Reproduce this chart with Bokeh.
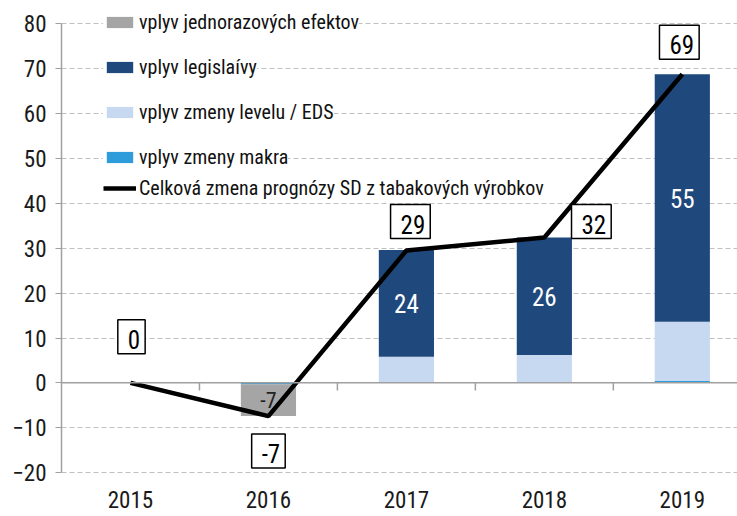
import numpy as np
from bokeh.plotting import figure
from bokeh.models import Range1d, FixedTicker, Span, Legend, LegendItem
from bokeh.core.properties import value
from bokeh.embed import file_html
from bokeh.resources import INLINE

# ---------------- data ----------------
years = ["2015", "2016", "2017", "2018", "2019"]
jednorazove = [0.0, -7.1, 0.0, 0.0, 0.0]
legislativa = [0.0, 0.0, 23.8, 26.2, 55.2]
level = [0.0, 0.0, 5.8, 6.2, 13.2]
makra = [0.0, -0.3, 0.0, 0.0, 0.4]
celkova = [0.0, -7.4, 29.5, 32.4, 68.8]
celkova_labels = ["0", "-7", "29", "32", "69"]
legislativa_labels = ["", "", "24", "26", "55"]
jednorazove_labels = ["", "-7", "", "", ""]
y_ticks = [-20, -10, 0, 10, 20, 30, 40, 50, 60, 70, 80]

FONT = "Roboto Condensed"

p = figure(width=737, height=516, output_backend="svg", toolbar_location=None,
           x_range=Range1d(-0.5, 4.4), y_range=Range1d(-20.2, 83),
           min_border_left=61, min_border_right=0, min_border_top=10, min_border_bottom=43)
p.outline_line_color = None
p.xgrid.visible = False
p.ygrid.ticker = FixedTicker(ticks=y_ticks)
p.ygrid.grid_line_color = "#BFBFBF"
p.ygrid.grid_line_dash = "5 3"
p.ygrid.grid_line_width = 1.2

# y axis
p.yaxis.ticker = FixedTicker(ticks=y_ticks)
p.yaxis.bounds = (y_ticks[0], y_ticks[-1])
p.yaxis.axis_line_color = "#A0A0A0"
p.yaxis.axis_line_width = 1.5
p.yaxis.major_tick_line_color = "#A0A0A0"
p.yaxis.major_tick_out = 6
p.yaxis.major_tick_in = 0
p.yaxis.minor_tick_line_color = None
p.yaxis.major_label_text_font = FONT
p.yaxis.major_label_text_font_size = "23px"
p.yaxis.major_label_text_color = "#1a1a1a"
p.yaxis.major_label_standoff = 9

# x axis (labels only)
xs = np.arange(len(years))
p.xaxis.ticker = FixedTicker(ticks=list(xs))
p.xaxis.major_label_overrides = {int(i): y for i, y in zip(xs, years)}
p.xaxis.axis_line_color = None
p.xaxis.major_tick_line_color = None
p.xaxis.minor_tick_line_color = None
p.xaxis.major_label_text_font = FONT
p.xaxis.major_label_text_font_size = "23px"
p.xaxis.major_label_text_color = "#1a1a1a"
p.xaxis.major_label_standoff = 11

# zero line + category boundary ticks
p.add_layout(Span(location=0, dimension="width", line_color="#A0A0A0", line_width=1.5))
bounds = xs[:-1] + 0.5
p.segment(x0=bounds, y0=np.zeros(len(bounds)), x1=bounds, y1=np.full(len(bounds), -1.7),
          line_color="#A0A0A0", line_width=1.5)

# stacked bars (positive and negative stacks)
series = [
    ("vplyv zmeny makra", makra, "#2E9BDA"),
    ("vplyv jednorazových efektov", jednorazove, "#A5A5A5"),
    ("vplyv zmeny levelu / EDS", level, "#C6D9F1"),
    ("vplyv legislaívy", legislativa, "#1F497D"),
]
pos = np.zeros(len(years))
neg = np.zeros(len(years))
rends = {}
mids = {}
for name, vals, col in series:
    v = np.array(vals)
    bottom = np.where(v >= 0, pos, neg)
    top = bottom + v
    pos = np.where(v >= 0, top, pos)
    neg = np.where(v < 0, top, neg)
    rends[name] = p.vbar(x=xs, bottom=bottom, top=top, width=0.4, fill_color=col, line_color=None)
    mids[name] = (bottom + top) / 2

p.text(x=xs, y=mids["vplyv legislaívy"], text=legislativa_labels, text_color="white",
       text_align="center", text_baseline="middle", text_font=value(FONT), text_font_size="25px")
p.text(x=xs, y=mids["vplyv jednorazových efektov"], text=jednorazove_labels, text_color="#222222",
       text_align="center", text_baseline="middle", text_font=value(FONT), text_font_size="22px")

line_name = "Celková zmena prognózy SD z tabakových výrobkov"
rends[line_name] = p.line(xs, celkova, line_color="black", line_width=4.5)

dx = [1, 0, 4, 47, -3]
dy = [-46, 35, -29, -16, -32]
p.text(x=xs, y=celkova, text=celkova_labels, x_offset=dx, y_offset=dy,
       text_align="center", text_baseline="middle", text_color="black",
       text_font=value(FONT), text_font_size="25px",
       background_fill_color="white", border_line_color="black", border_line_width=1.5,
       padding=(10, 5, 10, 5))

# legends (one per entry so each has its own white background)
legend_order = ["vplyv jednorazových efektov", "vplyv legislaívy", "vplyv zmeny levelu / EDS",
                "vplyv zmeny makra", line_name]
legend_y = [439, 394, 349, 304, 273]
for name, ly in zip(legend_order, legend_y):
    leg = Legend(items=[LegendItem(label=name, renderers=[rends[name]])], location=(42, ly),
                 glyph_width=33, glyph_height=14, label_height=24, label_standoff=3,
                 padding=0, margin=0, spacing=0, border_line_color=None,
                 background_fill_color="white", background_fill_alpha=1,
                 label_text_font=FONT, label_text_font_size="20px", label_text_color="#111111")
    p.add_layout(leg, "center")

open("out.html", "w").write(file_html(p, INLINE))
